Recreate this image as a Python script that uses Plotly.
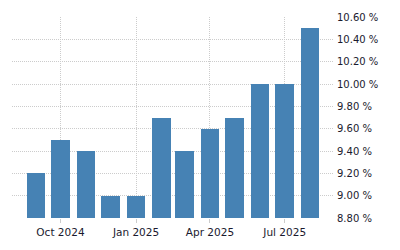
import plotly.graph_objects as go
import pandas as pd

months = ["2024-09-01", "2024-10-01", "2024-11-01", "2024-12-01", "2025-01-01", "2025-02-01",
          "2025-03-01", "2025-04-01", "2025-05-01", "2025-06-01", "2025-07-01", "2025-08-01"]
values = [9.2, 9.5, 9.4, 9.0, 9.0, 9.7, 9.4, 9.6, 9.7, 10.0, 10.0, 10.5]
x_ticks = ["2024-10-01", "2025-01-01", "2025-04-01", "2025-07-01"]
x_tick_labels = ["Oct 2024", "Jan 2025", "Apr 2025", "Jul 2025"]
y_ticks = [8.8, 9.0, 9.2, 9.4, 9.6, 9.8, 10.0, 10.2, 10.4, 10.6]
y_tick_labels = [f"{v:.2f} %" for v in y_ticks]

bar_width_ms = 22.5 * 24 * 3600 * 1000

fig = go.Figure(go.Bar(
    x=pd.to_datetime(months), y=values,
    width=[bar_width_ms] * len(months),
    marker=dict(color="#4682B4", line=dict(width=0)),
))

fig.update_layout(
    width=400, height=250,
    margin=dict(l=12, r=66, t=17, b=32),
    paper_bgcolor="white", plot_bgcolor="white",
    showlegend=False,
    font=dict(family="DejaVu Sans", size=10, color="#1a1a2e"),
    bargap=0,
)
fig.update_xaxes(
    type="date",
    range=["2024-08-03", "2025-08-30"],
    tickvals=pd.to_datetime(x_ticks), ticktext=x_tick_labels,
    showgrid=True, gridcolor="#cccccc", griddash="1px,1px", gridwidth=1,
    ticks="outside", ticklen=4, tickcolor="#cccccc",
    showline=False, zeroline=False,
    tickfont=dict(size=10.5, color="#1a1a2e"),
)
fig.update_yaxes(
    side="right",
    range=[8.8, 10.6],
    tickvals=y_ticks, ticktext=y_tick_labels,
    showgrid=True, gridcolor="#cccccc", griddash="1px,1px", gridwidth=1,
    ticks="", showline=False, zeroline=False,
    ticklabelstandoff=2,
    tickfont=dict(size=10, color="#1a1a2e"),
)

fig.write_html("out.html")
